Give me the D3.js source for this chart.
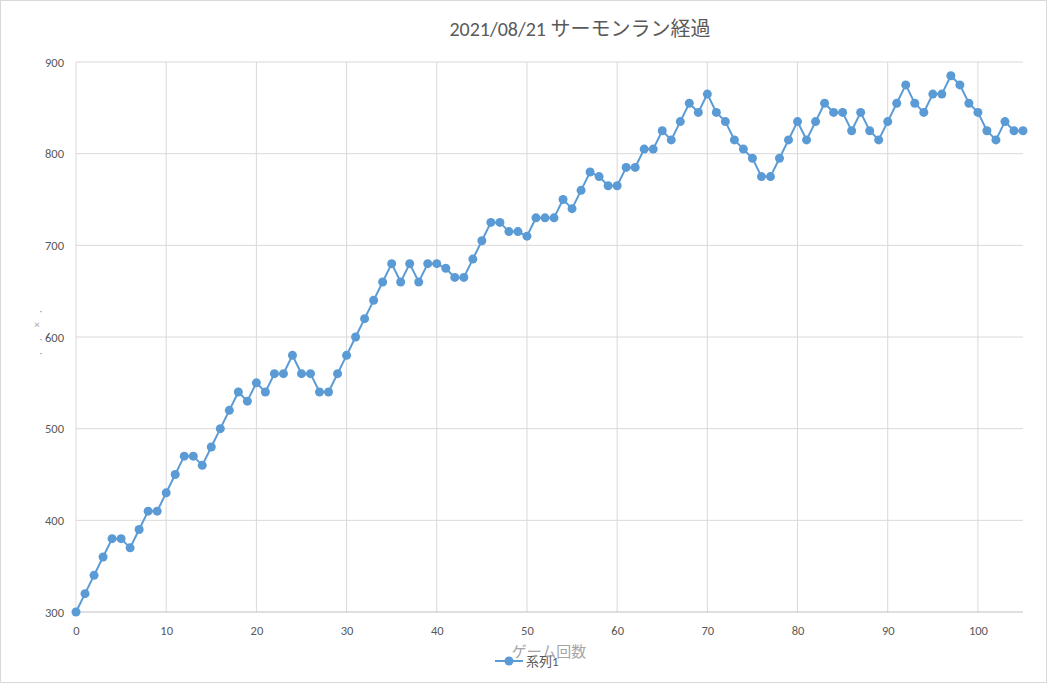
<!DOCTYPE html>
<html>
<head>
<meta charset="utf-8">
<script src="https://cdn.jsdelivr.net/npm/d3@7"></script>
<style>
  body { margin: 0; background: #fff; }
  text { font-family: Calibri, Carlito, "Noto Sans CJK JP", "Noto Sans", sans-serif; }
</style>
</head>
<body>
<script>
// ゲーム回数ごとのポイント
const games = d3.range(0, 106);
const points = [
  300, 320, 340, 360, 380, 380, 370, 390, 410, 410,
  430, 450, 470, 470, 460, 480, 500, 520, 540, 530,
  550, 540, 560, 560, 580, 560, 560, 540, 540, 560,
  580, 600, 620, 640, 660, 680, 660, 680, 660, 680,
  680, 675, 665, 665, 685, 705, 725, 725, 715, 715,
  710, 730, 730, 730, 750, 740, 760, 780, 775, 765,
  765, 785, 785, 805, 805, 825, 815, 835, 855, 845,
  865, 845, 835, 815, 805, 795, 775, 775, 795, 815,
  835, 815, 835, 855, 845, 845, 825, 845, 825, 815,
  835, 855, 875, 855, 845, 865, 865, 885, 875, 855,
  845, 825, 815, 835, 825, 825
];
const xTicks = d3.range(0, 101, 10);
const yTicks = d3.range(300, 901, 100);

const W = 1047, H = 683;
const svg = d3.select('body').append('svg').attr('width', W).attr('height', H);

svg.append('rect')
  .attr('x', 0.5).attr('y', 0.5)
  .attr('width', W - 1).attr('height', H - 1)
  .style('fill', '#fff').style('stroke', '#d9d9d9');

const x = d3.scaleLinear().domain([0, 105]).range([76, 1023]);
const y = d3.scaleLinear().domain([300, 900]).range([612, 62]);

/**
 * グリッド
 */
svg.append('g')
  .selectAll('line')
  .data(xTicks)
  .join('line')
  .attr('x1', d => x(d)).attr('x2', d => x(d))
  .attr('y1', y(900)).attr('y2', y(300))
  .style('stroke', '#d9d9d9').style('stroke-width', 1);

svg.append('g')
  .selectAll('line')
  .data(yTicks)
  .join('line')
  .attr('x1', x(0)).attr('x2', x(105))
  .attr('y1', d => y(d)).attr('y2', d => y(d))
  .style('stroke', d => d === 300 ? '#bfbfbf' : '#d9d9d9').style('stroke-width', 1);

/**
 * 軸ラベル
 */
const xAxis = svg.append('g')
  .attr('transform', `translate(0, ${y(300)})`)
  .call(d3.axisBottom(x).tickValues(xTicks).tickSize(0).tickPadding(14));
xAxis.select('.domain').remove();
xAxis.selectAll('text').style('font-size', '12.5px').style('fill', '#595959');

const yAxis = svg.append('g')
  .attr('transform', `translate(${x(0)}, 0)`)
  .call(d3.axisLeft(y).tickValues(yTicks).tickSize(0).tickPadding(12));
yAxis.select('.domain').remove();
yAxis.selectAll('text').style('font-size', '12.5px').style('fill', '#595959');

/**
 * タイトル
 */
svg.append('text')
  .attr('x', 580).attr('y', 36)
  .attr('text-anchor', 'middle')
  .style('font-size', '20px')
  .style('fill', '#595959')
  .text('2021/08/21 サーモンラン経過');

// 縦軸タイトル(文字化け風)
const yTitle = ['·', '×', '·', '·'];
svg.append('g')
  .selectAll('text')
  .data(yTitle)
  .join('text')
  .attr('x', (d, i) => i === 1 ? 37 : 41)
  .attr('y', (d, i) => 314 + i * 14)
  .attr('text-anchor', 'middle')
  .style('font-size', '11px')
  .style('fill', '#a6a6a6')
  .text(d => d);

// 横軸タイトル
svg.append('text')
  .attr('x', 549).attr('y', 657)
  .attr('text-anchor', 'middle')
  .style('font-size', '15px')
  .style('fill', '#a6a6a6')
  .text('ゲーム回数');

/**
 * 折れ線
 */
const line = d3.line()
  .x((d, i) => x(games[i]))
  .y(d => y(d));

svg.append('path')
  .attr('d', line(points))
  .style('stroke', '#5B9BD5')
  .style('stroke-width', 2)
  .style('fill', 'none');

svg.append('g')
  .selectAll('circle')
  .data(points)
  .join('circle')
  .attr('cx', (d, i) => x(games[i]))
  .attr('cy', d => y(d))
  .attr('r', 4.5)
  .style('fill', '#5B9BD5');

/**
 * 凡例
 */
const legend = svg.append('g').attr('transform', 'translate(495, 661)');
legend.append('line')
  .attr('x1', 0).attr('x2', 28)
  .style('stroke', '#5B9BD5').style('stroke-width', 2);
legend.append('circle')
  .attr('cx', 14).attr('r', 4.5)
  .style('fill', '#5B9BD5');
legend.append('text')
  .attr('x', 31).attr('y', 5)
  .style('font-size', '13px')
  .style('fill', '#595959')
  .text('系列1');
</script>
</body>
</html>
